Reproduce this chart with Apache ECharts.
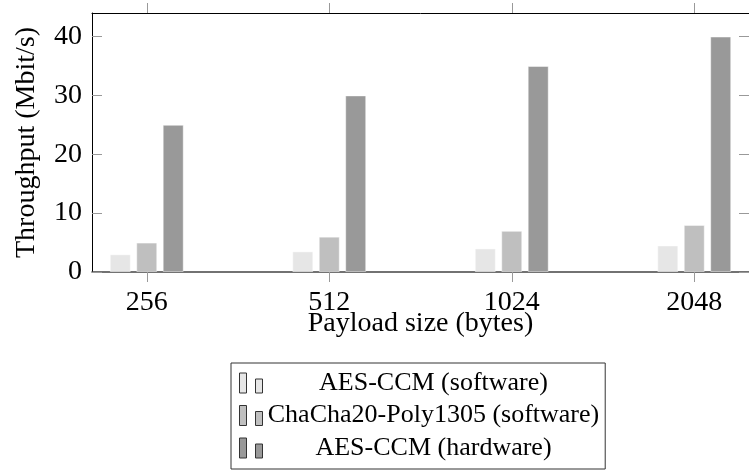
<!DOCTYPE html>
<html>
<head>
<meta charset="utf-8">
<script src="https://cdn.jsdelivr.net/npm/echarts@6/dist/echarts.min.js"></script>
<style>
html,body{margin:0;padding:0;background:#fff;}
#chart{width:749px;height:470px;}
</style>
</head>
<body>
<div id="chart"></div>
<script>
const categories = ['256', '512', '1024', '2048'];
const seriesNames = ['AES-CCM (software)', 'ChaCha20-Poly1305 (software)', 'AES-CCM (hardware)'];
const aesSoftware = [3, 3.5, 4, 4.5];
const chachaSoftware = [5, 6, 7, 8];
const aesHardware = [25, 30, 35, 40];
const yTicks = [0, 10, 20, 30, 40];
const xTickIdx = [0, 1, 2, 3];
const colors = ['#e6e6e6', '#bfbfbf', '#999999'];

const FONT = 'Liberation Serif';
const FS = 28;
const LFS = 26;

const chart = echarts.init(document.getElementById('chart'), null, {renderer: 'canvas'});

function mk(vals) { return vals.map((v, i) => [i, v]); }
const allData = [aesSoftware, chachaSoftware, aesHardware];

const legendIcon = 'path://M0,0H7V20H0Z M16,6H23V20H16Z';

const option = {
  animation: false,
  backgroundColor: '#fff',
  textStyle: {fontFamily: FONT},
  grid: {left: 92, right: -7, top: 13, bottom: 198, containLabel: false},
  xAxis: [
    {
      type: 'value', min: -0.3, max: 3.3, position: 'bottom',
      name: 'Payload size (bytes)', nameLocation: 'middle', nameGap: 38, nameMoveOverlap: false,
      nameTextStyle: {fontFamily: FONT, fontSize: FS, color: '#000'},
      axisLine: {show: true, onZero: false, lineStyle: {color: '#444', width: 1.5}},
      axisTick: {show: true, inside: false, length: 10, customValues: xTickIdx, lineStyle: {color: '#999', width: 1}},
      axisLabel: {show: true, customValues: xTickIdx, margin: 17, fontFamily: FONT, fontSize: FS, color: '#000',
        formatter: v => categories[Math.round(v)]},
      splitLine: {show: false}
    },
    {
      type: 'value', min: -0.3, max: 3.3, position: 'top',
      axisLine: {show: true, onZero: false, lineStyle: {color: '#000', width: 1}},
      axisTick: {show: true, inside: false, length: 10, customValues: xTickIdx, lineStyle: {color: '#999', width: 1}},
      axisLabel: {show: false},
      splitLine: {show: false}
    }
  ],
  yAxis: [
    {
      type: 'value', min: 0, max: 44, position: 'left',
      name: 'Throughput (Mbit/s)', nameLocation: 'middle', nameGap: 51, nameRotate: 90, nameMoveOverlap: false,
      nameTextStyle: {fontFamily: FONT, fontSize: FS, color: '#000'},
      axisLine: {show: true, onZero: false, lineStyle: {color: '#000', width: 1}},
      axisTick: {show: true, inside: true, length: 10, customValues: yTicks, lineStyle: {color: '#999', width: 1}},
      axisLabel: {show: true, customValues: yTicks, margin: 10, fontFamily: FONT, fontSize: FS, color: '#000'},
      splitLine: {show: false}
    },
    {
      type: 'value', min: 0, max: 44, position: 'right',
      axisLine: {show: true, onZero: false, lineStyle: {color: '#000', width: 1}},
      axisTick: {show: true, inside: true, length: 10, customValues: yTicks, lineStyle: {color: '#999', width: 1}},
      axisLabel: {show: false},
      splitLine: {show: false}
    }
  ],
  legend: {
    orient: 'vertical',
    left: 231, top: 363, height: 200, width: 500,
    padding: [7, 6, 8, 8],
    itemGap: 6.5,
    itemWidth: 23, itemHeight: 20,
    borderColor: '#333', borderWidth: 1,
    icon: legendIcon,
    itemStyle: {borderColor: '#333', borderWidth: 1},
    data: seriesNames,
    formatter: name => '{t|' + name + '}',
    textStyle: {
      rich: {t: {width: 332, align: 'center', fontFamily: FONT, fontSize: LFS, color: '#000'}}
    }
  },
  series: seriesNames.map((n, k) => ({
    name: n,
    type: 'bar',
    xAxisIndex: 0, yAxisIndex: 0,
    barWidth: 21,
    barGap: '26%',
    clip: false,
    data: mk(allData[k]),
    itemStyle: {color: colors[k], borderColor: 'rgba(255,255,255,0.45)', borderWidth: 1}
  }))
};
chart.setOption(option);
</script>
</body>
</html>
